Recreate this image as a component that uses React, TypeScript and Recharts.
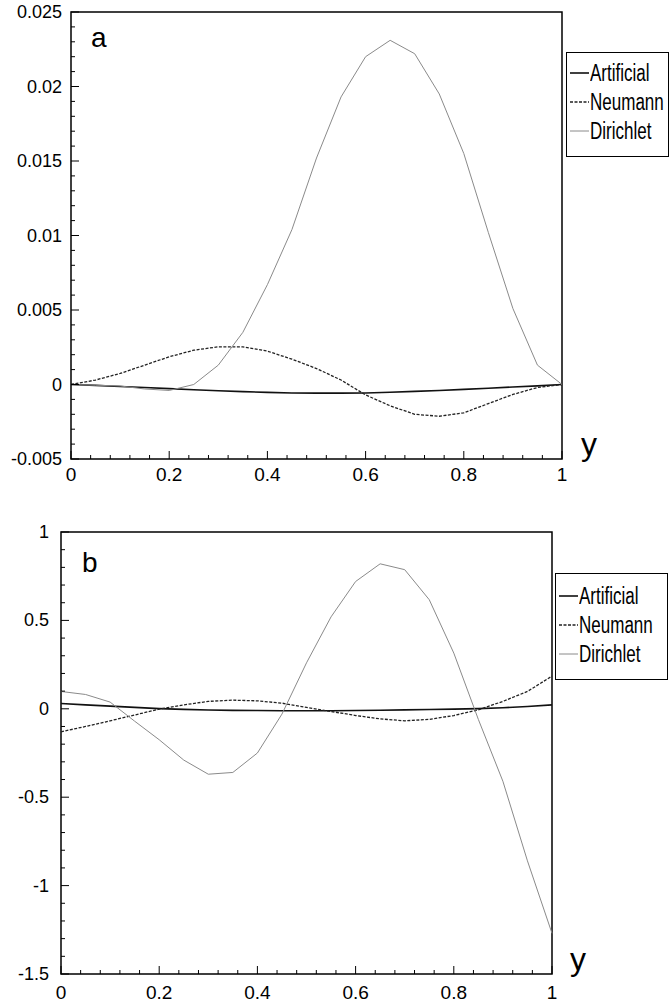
import { LineChart, Line, XAxis, YAxis, ReferenceArea, Label } from 'recharts'

// y positions along the channel
const xs = [0, 0.05, 0.1, 0.15, 0.2, 0.25, 0.3, 0.35, 0.4, 0.45, 0.5, 0.55, 0.6, 0.65, 0.7, 0.75, 0.8, 0.85, 0.9, 0.95, 1]

// panel a
const aArtificial = [0, -0.00006, -0.00013, -0.0002, -0.00028, -0.00035, -0.00042, -0.00048, -0.00053, -0.00057, -0.00058, -0.00058, -0.00057, -0.00052, -0.00046, -0.0004, -0.00033, -0.00025, -0.00017, -0.00009, 0]
const aNeumann = [0, 0.0003, 0.00074, 0.0013, 0.00186, 0.0023, 0.00253, 0.00253, 0.00224, 0.0017, 0.00107, 0.0003, -0.0007, -0.00143, -0.002, -0.00213, -0.0019, -0.00128, -0.00067, -0.0002, 0]
const aDirichlet = [0, -0.00005, -0.0001, -0.0003, -0.0004, 0, 0.0013, 0.0035, 0.0067, 0.0104, 0.0152, 0.0193, 0.022, 0.0231, 0.0222, 0.0195, 0.0155, 0.0102, 0.0051, 0.0013, 0]

// panel b
const bArtificial = [0.03, 0.022, 0.015, 0.008, 0.001, -0.003, -0.007, -0.009, -0.01, -0.011, -0.011, -0.011, -0.01, -0.008, -0.006, -0.004, -0.002, 0.001, 0.006, 0.013, 0.022]
const bNeumann = [-0.13, -0.1, -0.068, -0.035, -0.002, 0.022, 0.042, 0.049, 0.045, 0.032, 0.008, -0.015, -0.038, -0.057, -0.068, -0.06, -0.038, -0.006, 0.042, 0.098, 0.185]
const bDirichlet = [0.098, 0.081, 0.038, -0.07, -0.175, -0.29, -0.37, -0.36, -0.25, -0.03, 0.26, 0.52, 0.72, 0.82, 0.787, 0.617, 0.315, -0.06, -0.41, -0.86, -1.27]

const xMajor = [0, 0.2, 0.4, 0.6, 0.8, 1]
const xLabels = ['0', '0.2', '0.4', '0.6', '0.8', '1']
const aYMajor = [-0.005, 0, 0.005, 0.01, 0.015, 0.02, 0.025]
const aYLabels = ['-0.005', '0', '0.005', '0.01', '0.015', '0.02', '0.025']
const bYMajor = [-1.5, -1, -0.5, 0, 0.5, 1]
const bYLabels = ['-1.5', '-1', '-0.5', '0', '0.5', '1']

const seriesNames = ['Artificial', 'Neumann', 'Dirichlet']
const seriesColors = ['#111', '#222', '#8a8a8a']
const seriesWidths = [1.6, 1.3, 1]
const seriesDash = ['', '3 1.5', '']

const font = "'Liberation Sans', Arial, Helvetica, sans-serif"

// major ticks plus 4 minor ones in between
function withMinor(major: number[], sub = 5) {
  const out: number[] = []
  for (let i = 0; i < major.length - 1; i++) {
    const step = (major[i + 1] - major[i]) / sub
    for (let k = 0; k < sub; k++) out.push(Math.round((major[i] + k * step) * 1e6) / 1e6)
  }
  out.push(major[major.length - 1])
  return out
}

const findMajor = (major: number[], v: number) => major.findIndex((m) => Math.abs(m - v) < 1e-9)

const makeXTick = (labelDy: number) => (props: any) => {
  const { x, y, payload } = props
  const i = findMajor(xMajor, payload.value)
  const len = i >= 0 ? 8 : 4
  return (
    <g>
      <line x1={x} x2={x} y1={y} y2={y - len} stroke="#000" strokeWidth={1} />
      {i >= 0 && (
        <text x={x} y={y + labelDy} textAnchor="middle" fontSize={19} fontFamily={font} fill="#000">
          {xLabels[i]}
        </text>
      )}
    </g>
  )
}

const makeYTick = (major: number[], labels: string[], gap: number) => (props: any) => {
  const { x, y, payload } = props
  const i = findMajor(major, payload.value)
  const len = i >= 0 ? 8 : 4
  return (
    <g>
      <line x1={x} x2={x + len} y1={y} y2={y} stroke="#000" strokeWidth={1} />
      {i >= 0 && (
        <text x={x - gap} y={y + 6} textAnchor="end" fontSize={18} fontFamily={font} fill="#000">
          {labels[i]}
        </text>
      )}
    </g>
  )
}

function buildRows(art: number[], neu: number[], dir: number[]) {
  return xs.map((x, i) => ({ x, Artificial: art[i], Neumann: neu[i], Dirichlet: dir[i] }))
}

function LegendBox({ left, top, width, height, rowTop, rowGap }: any) {
  return (
    <div
      style={{
        position: 'absolute',
        left,
        top,
        width,
        height,
        border: '1.5px solid #000',
        boxSizing: 'border-box',
        background: '#fff',
        overflow: 'hidden',
      }}
    >
      {seriesNames.map((name, i) => (
        <div
          key={name}
          style={{
            position: 'absolute',
            left: 3,
            top: rowTop + i * rowGap - 14,
            height: 28,
            display: 'flex',
            alignItems: 'center',
            whiteSpace: 'nowrap',
            fontFamily: font,
            fontSize: 23,
            color: '#000',
          }}
        >
          <svg width={19} height={4} style={{ marginRight: 1 }}>
            <line
              x1={0}
              x2={19}
              y1={2}
              y2={2}
              stroke={seriesColors[i]}
              strokeWidth={seriesWidths[i]}
              strokeDasharray={seriesDash[i] || undefined}
            />
          </svg>
          <span style={{ display: 'inline-block', transform: 'scaleX(0.74)', transformOrigin: 'left center' }}>{name}</span>
        </div>
      ))}
    </div>
  )
}

function Panel({ top, height, margin, yWidth, xHeight, data, yMajor, yLabels, letter, labelDy, gap, letterPos, yPos }: any) {
  const yTicks = withMinor(yMajor)
  const xTicks = withMinor(xMajor)
  const yDomain = [yMajor[0], yMajor[yMajor.length - 1]]
  return (
    <div style={{ position: 'absolute', left: 0, top }}>
      <LineChart width={669} height={height} data={data} margin={margin}>
        <XAxis
          dataKey="x"
          type="number"
          domain={[0, 1]}
          ticks={xTicks}
          interval={0}
          height={xHeight}
          axisLine={false}
          tickLine={false}
          tickSize={0}
          tickMargin={0}
          tick={makeXTick(labelDy)}
        />
        <YAxis
          type="number"
          domain={yDomain}
          ticks={yTicks}
          interval={0}
          width={yWidth}
          axisLine={false}
          tickLine={false}
          tickSize={0}
          tickMargin={0}
          allowDataOverflow
          tick={makeYTick(yMajor, yLabels, gap)}
        />
        {seriesNames.map((name, i) => (
          <Line
            key={name}
            dataKey={name}
            type="linear"
            dot={false}
            stroke={seriesColors[i]}
            strokeWidth={seriesWidths[i]}
            strokeDasharray={seriesDash[i] || undefined}
            isAnimationActive={false}
          />
        ))}
        <ReferenceArea x1={0} x2={1} y1={yDomain[0]} y2={yDomain[1]} fill="none" stroke="#000" strokeWidth={1.5} fillOpacity={0}>
          <Label
            content={({ viewBox }: any) => (
              <text x={viewBox.x + letterPos[0]} y={viewBox.y + letterPos[1]} fontSize={28} fontFamily={font} fill="#000">
                {letter}
              </text>
            )}
          />
          <Label
            content={({ viewBox }: any) => (
              <text
                x={viewBox.x + viewBox.width + yPos[0]}
                y={viewBox.y + viewBox.height + yPos[1]}
                fontSize={32}
                fontFamily={font}
                fill="#000"
              >
                y
              </text>
            )}
          />
        </ReferenceArea>
      </LineChart>
    </div>
  )
}

export default function App() {
  const dataA = buildRows(aArtificial, aNeumann, aDirichlet)
  const dataB = buildRows(bArtificial, bNeumann, bDirichlet)
  return (
    <div style={{ position: 'absolute', left: 0, top: 0, width: 669, height: 1007, background: '#fff', overflow: 'hidden' }}>
      <Panel
        top={0}
        height={490}
        margin={{ top: 12, right: 107, bottom: 0, left: 0 }}
        yWidth={71}
        xHeight={31}
        data={dataA}
        yMajor={aYMajor}
        yLabels={aYLabels}
        letter="a"
        labelDy={22}
        gap={9}
        letterPos={[20, 35]}
        yPos={[19, -4]}
      />
      <Panel
        top={500}
        height={507}
        margin={{ top: 32, right: 117, bottom: 0, left: 0 }}
        yWidth={61}
        xHeight={33}
        data={dataB}
        yMajor={bYMajor}
        yLabels={bYLabels}
        letter="b"
        labelDy={25}
        gap={12}
        letterPos={[21, 40]}
        yPos={[18, -4]}
      />
      <LegendBox left={566} top={52} width={103} height={105} rowTop={20} rowGap={29} />
      <LegendBox left={555} top={573} width={113} height={107} rowTop={22} rowGap={29} />
    </div>
  )
}
